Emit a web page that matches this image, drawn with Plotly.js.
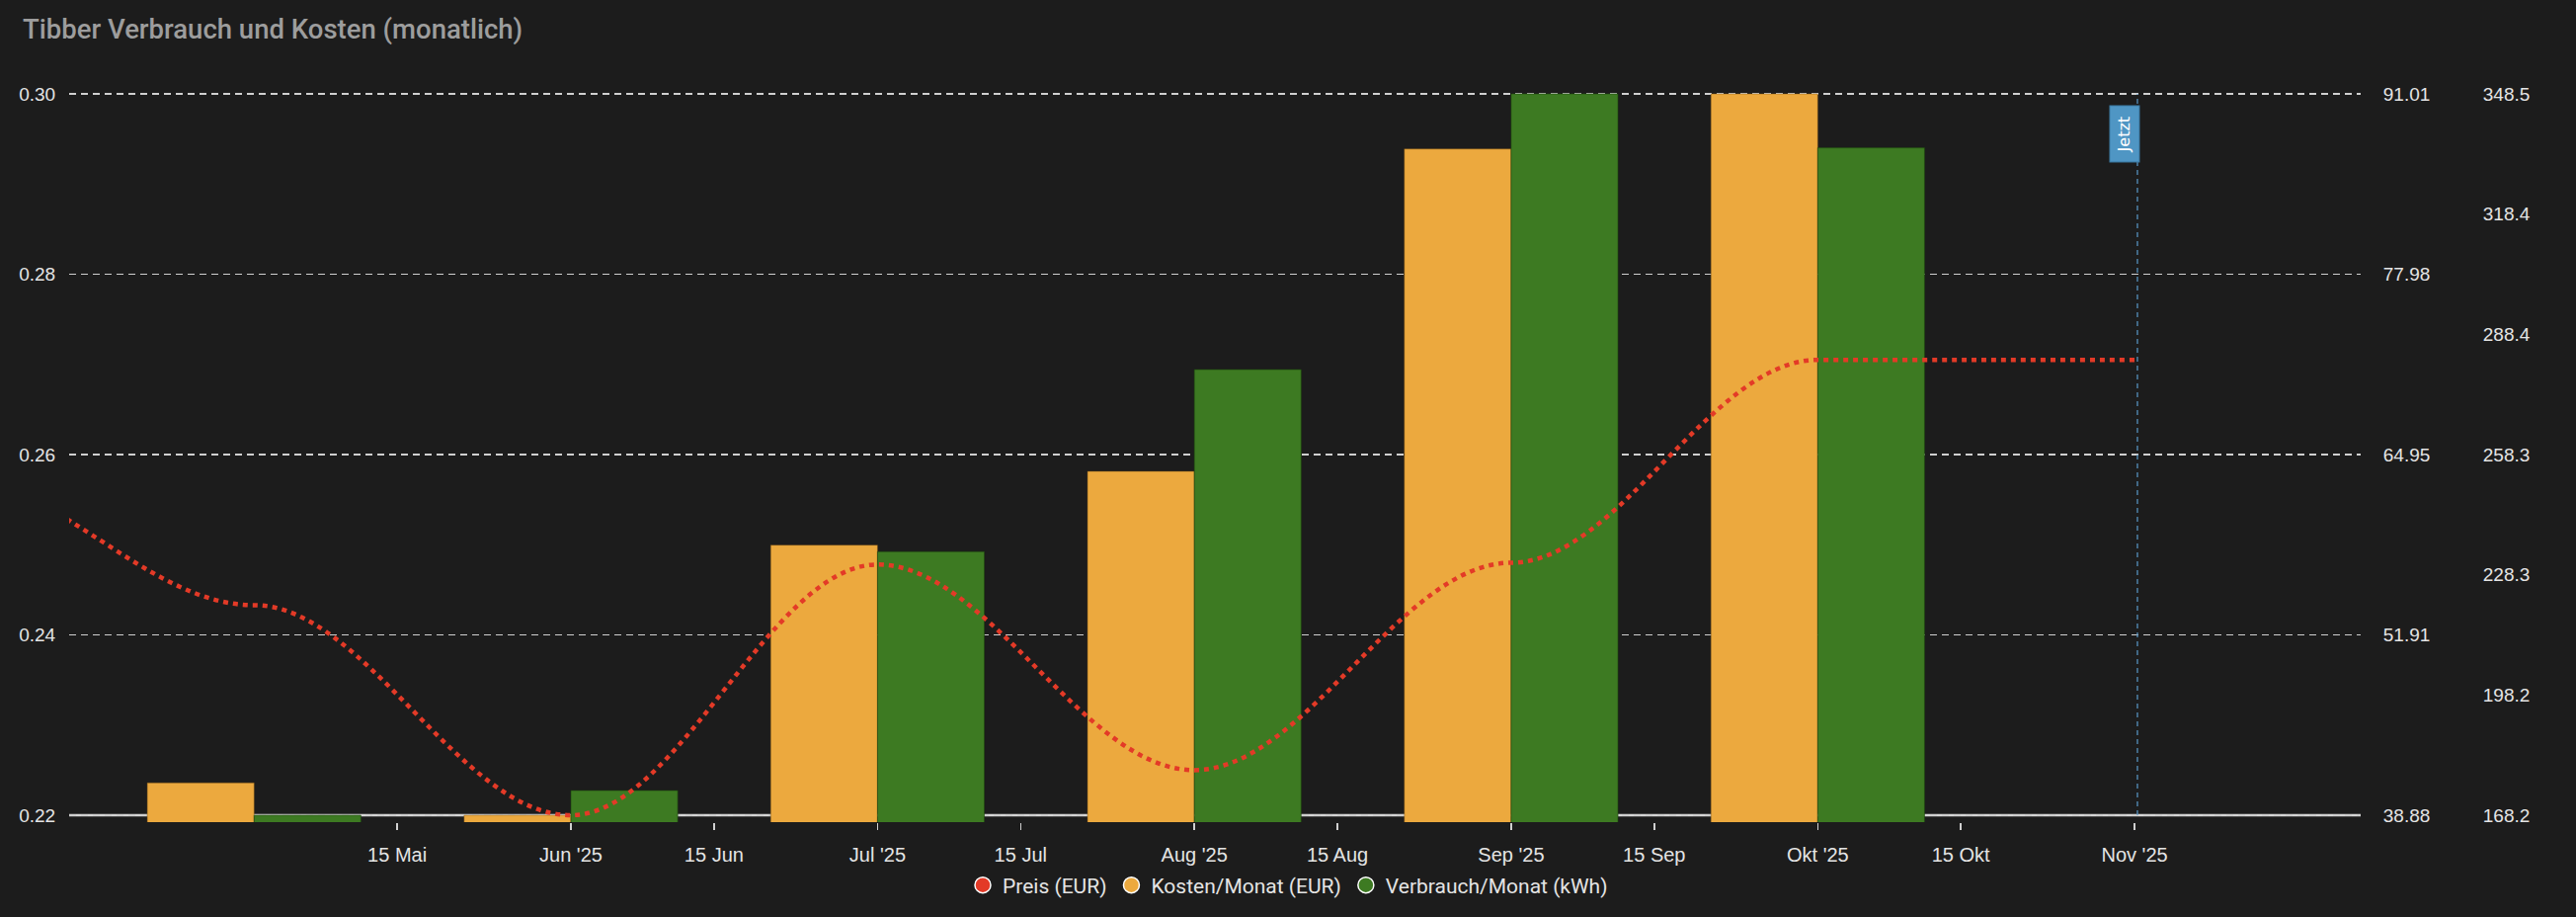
<!DOCTYPE html>
<html>
<head>
<meta charset="utf-8">
<script src="https://cdn.plot.ly/plotly-3.0.1.min.js"></script>
<style>
html,body{margin:0;padding:0;background:#1c1c1c;}
#chart{width:2608px;height:928px;}
</style>
</head>
<body>
<div id="chart"></div>
<script>
// ---- data ----
const months = ['2025-05-01','2025-06-01','2025-07-01','2025-08-01','2025-09-01','2025-10-01'];
const kosten = [41.22, 38.88, 58.40, 63.73, 87.03, 91.01];
const verbrauch = [168.2, 174.37, 234.07, 279.59, 348.5, 335.01];
const preisDates = ['2025-04-01','2025-05-01','2025-06-01','2025-07-01','2025-08-01','2025-09-01','2025-10-01','2025-11-01'];
const preis = [0.2576, 0.2433, 0.2200, 0.2478, 0.2250, 0.2480, 0.2705, 0.2705];
const seriesNames = ['Preis (EUR)', 'Kosten/Monat (EUR)', 'Verbrauch/Monat (kWh)'];
const xTickVals = ['2025-05-15','2025-06-01','2025-06-15','2025-07-01','2025-07-15','2025-08-01','2025-08-15','2025-09-01','2025-09-15','2025-10-01','2025-10-15','2025-11-01'];
const xTickText = ['15 Mai', "Jun '25", '15 Jun', "Jul '25", '15 Jul', "Aug '25", '15 Aug', "Sep '25", '15 Sep', "Okt '25", '15 Okt', "Nov '25"];
const preisTicks = [0.22, 0.24, 0.26, 0.28, 0.30];
const preisTickText = ['0.22', '0.24', '0.26', '0.28', '0.30'];
const kostenTicks = [38.88, 51.9125, 64.945, 77.9775, 91.01];
const kostenTickText = ['38.88', '51.91', '64.95', '77.98', '91.01'];
const verbrauchTicks = [168.2, 198.25, 228.3, 258.35, 288.4, 318.45, 348.5];
const verbrauchTickText = ['168.2', '198.2', '228.3', '258.3', '288.4', '318.4', '348.5'];
const jetzt = '2025-11-01 06:44';
const chartTitle = 'Tibber Verbrauch und Kosten (monatlich)';

// ---- styling ----
const colors = {preis: '#E33A27', kosten: '#ECA93E', verbrauch: '#3D7A22', bg: '#1c1c1c', text: '#e4e4e4', grid: '#cfcfcf', jetzt: '#4f96c4'};
const DAY = 86400000;
const barWidth = 10.45 * DAY;
const tickFont = {family: "'Liberation Sans', Arial, sans-serif", size: 19, color: colors.text};

// padding of the value axes (bars start slightly below the lowest tick, top grid stays visible)
const padBottom = 7 / 730, padTop = 2 / 730;
function padRange(ticks) {
  const lo = ticks[0], hi = ticks[ticks.length - 1];
  return [lo - (hi - lo) * padBottom, hi + (hi - lo) * padTop];
}

// apexcharts "smooth" curve: cubic segments with horizontal tangents at the data points
function toMs(d) { const p = d.split('-').map(Number); return Date.UTC(p[0], p[1] - 1, p[2]); }
function fmt(t) {
  const d = new Date(t); const p = n => String(n).padStart(2, '0');
  return d.getUTCFullYear() + '-' + p(d.getUTCMonth() + 1) + '-' + p(d.getUTCDate()) + '_' +
         p(d.getUTCHours()) + ':' + p(d.getUTCMinutes()) + ':' + p(d.getUTCSeconds());
}
let preisPath = 'M' + fmt(toMs(preisDates[0])) + ',' + preis[0];
for (let i = 1; i < preisDates.length; i++) {
  const x0 = toMs(preisDates[i - 1]), x1 = toMs(preisDates[i]);
  const L = Math.round((x1 - x0) * 0.35);
  preisPath += ' C' + fmt(x0 + L) + ',' + preis[i - 1] + ' ' + fmt(x1 - L) + ',' + preis[i] + ' ' + fmt(x1) + ',' + preis[i];
}

const W = 2608, H = 928;
const margin = {l: 70, r: 70, t: 93, b: 96};
const plotRightPx = 2390;
const domEnd = (plotRightPx - margin.l) / (W - margin.l - margin.r);
const paperH = H - margin.t - margin.b;

const traces = [
  {type: 'bar', x: months, y: kosten, yaxis: 'y2', name: seriesNames[1], width: barWidth, offset: -barWidth,
   marker: {color: colors.kosten, line: {color: 'rgba(120,80,20,0.45)', width: 1}}, showlegend: false, hoverinfo: 'skip'},
  {type: 'bar', x: months, y: verbrauch, yaxis: 'y3', name: seriesNames[2], width: barWidth, offset: 0,
   marker: {color: colors.verbrauch, line: {color: 'rgba(30,70,15,0.6)', width: 1}}, showlegend: false, hoverinfo: 'skip'},
  // legend entries
  {type: 'scatter', mode: 'markers', x: [null], y: [null], name: seriesNames[0],
   marker: {symbol: 'circle', size: 20, color: colors.preis, line: {color: '#ffffff', width: 1.5}}},
  {type: 'scatter', mode: 'markers', x: [null], y: [null], name: seriesNames[1],
   marker: {symbol: 'circle', size: 20, color: colors.kosten, line: {color: '#ffffff', width: 1.5}}},
  {type: 'scatter', mode: 'markers', x: [null], y: [null], name: seriesNames[2],
   marker: {symbol: 'circle', size: 20, color: colors.verbrauch, line: {color: '#ffffff', width: 1.5}}}
];

const layout = {
  width: W, height: H,
  paper_bgcolor: colors.bg, plot_bgcolor: colors.bg,
  margin: margin,
  barmode: 'overlay',
  showlegend: true,
  title: {text: chartTitle, x: 23 / W, xanchor: 'left', xref: 'container', y: 1 - 29 / H, yanchor: 'middle', yref: 'container',
          font: {family: 'Roboto, sans-serif', size: 27.5, weight: 500, color: '#9d9d9d'}},
  xaxis: {type: 'date', domain: [0, domEnd], range: ['2025-04-12 21:40', '2025-11-23 03:00'],
          tickmode: 'array', tickvals: xTickVals, ticktext: xTickText,
          ticks: 'outside', ticklen: 7, tickwidth: 1.5, tickcolor: '#d0d0d0', ticklabelstandoff: 8,
          showgrid: false, zeroline: false, showline: false, tickfont: Object.assign({}, tickFont, {size: 20}), fixedrange: true},
  yaxis: {range: padRange(preisTicks), tickmode: 'array', tickvals: preisTicks, ticktext: preisTickText,
          showgrid: true, gridcolor: colors.grid, gridwidth: 1.5, griddash: '7px,5px',
          zeroline: false, showline: false, ticks: 'outside', ticklen: 9, tickcolor: 'rgba(0,0,0,0)', tickfont: tickFont},
  yaxis2: {overlaying: 'y', side: 'right', anchor: 'x', range: padRange(kostenTicks), tickmode: 'array', tickvals: kostenTicks, ticktext: kostenTickText,
           showgrid: false, zeroline: false, showline: false, ticks: 'outside', ticklen: 18, tickcolor: 'rgba(0,0,0,0)', tickfont: tickFont},
  yaxis3: {overlaying: 'y', side: 'right', anchor: 'free', position: domEnd, range: padRange(verbrauchTicks), tickmode: 'array', tickvals: verbrauchTicks, ticktext: verbrauchTickText,
           showgrid: false, zeroline: false, showline: false, ticks: 'outside', ticklen: 119, tickcolor: 'rgba(0,0,0,0)', tickfont: tickFont},
  legend: {orientation: 'h', x: 0.5, xanchor: 'center', xref: 'paper', y: -(896 - (H - margin.b)) / paperH, yanchor: 'middle',
           font: {family: 'Roboto, sans-serif', size: 21, color: colors.text}, bgcolor: 'rgba(0,0,0,0)', itemsizing: 'trace', itemclick: false},
  shapes: [
    {type: 'line', xref: 'paper', x0: 0, x1: domEnd, yref: 'y', y0: preisTicks[0], y1: preisTicks[0],
     line: {color: '#d6d6d6', width: 2.5}, layer: 'below'},
    {type: 'path', xref: 'x', yref: 'y', path: preisPath, fillcolor: 'rgba(0,0,0,0)',
     line: {color: colors.preis, width: 4.5, dash: '5px,5px'}, layer: 'above'},
    {type: 'line', xref: 'x', x0: jetzt, x1: jetzt, yref: 'y', y0: preisTicks[0], y1: preisTicks[preisTicks.length - 1],
     line: {color: '#5b9bcc', width: 1.2, dash: '5px,4px'}, layer: 'above'}
  ],
  annotations: [
    {x: jetzt, xref: 'x', xanchor: 'right', xshift: 2, y: preisTicks[preisTicks.length - 1], yref: 'y', yanchor: 'top', yshift: -11,
     text: '&nbsp;Jetzt&nbsp;', textangle: -90, showarrow: false,
     font: {family: "'DejaVu Sans', sans-serif", size: 16, color: '#ffffff'},
     bgcolor: colors.jetzt, bordercolor: '#3b7aa3', borderwidth: 1, borderpad: 5}
  ]
};

Plotly.newPlot('chart', traces, layout, {displayModeBar: false, staticPlot: true});
</script>
</body>
</html>
